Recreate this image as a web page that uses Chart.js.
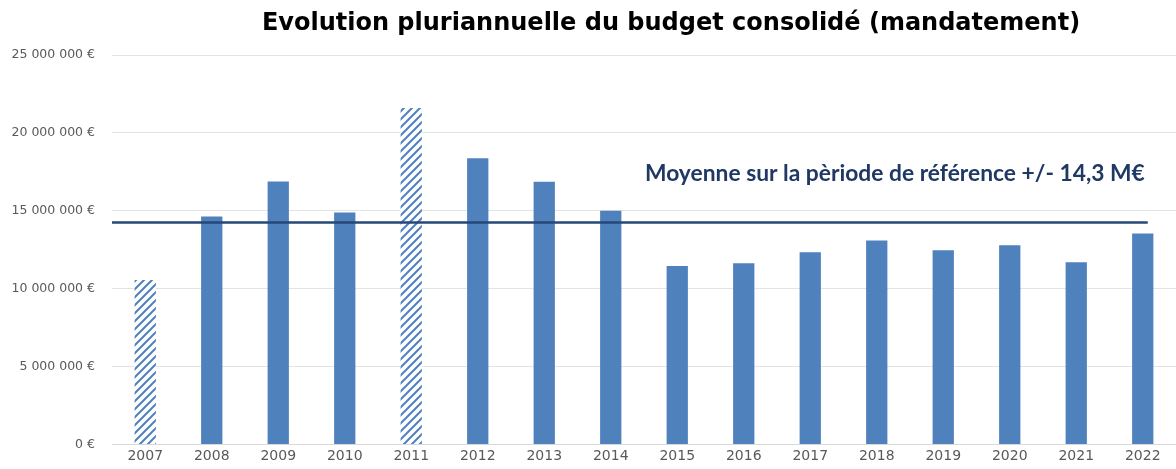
<!DOCTYPE html>
<html>
<head>
<meta charset="utf-8">
<script src="https://cdn.jsdelivr.net/npm/chart.js@4"></script>
<style>
  html, body { margin: 0; padding: 0; background: #fff; overflow: hidden; }
  canvas { display: block; }
</style>
</head>
<body>
<canvas id="budgetChart" width="1176" height="469"></canvas>
<script>
// data
const years = ['2007', '2008', '2009', '2010', '2011', '2012', '2013', '2014',
               '2015', '2016', '2017', '2018', '2019', '2020', '2021', '2022'];
const budget = [10560000, 14630000, 16880000, 14890000, 21600000, 18380000, 16860000, 15010000,
                11450000, 11640000, 12340000, 13100000, 12470000, 12790000, 11700000, 13550000];
const hatchedYears = ['2007', '2011'];
const average = 14250000;
const averageLabel = 'Moyenne sur la pèriode de référence +/- 14,3 M€';
const chartTitle = 'Evolution pluriannuelle du budget consolidé (mandatement)';
const yTicks = [0, 5000000, 10000000, 15000000, 20000000, 25000000];

const blue = '#4F81BD';

// diagonal stripes for the hatched years
function makeHatch() {
    const c = document.createElement('canvas');
    c.width = 8; c.height = 8;
    const g = c.getContext('2d');
    g.fillStyle = '#fff';
    g.fillRect(0, 0, 8, 8);
    g.strokeStyle = blue;
    g.lineWidth = 2;
    g.beginPath();
    g.moveTo(-1, 9); g.lineTo(9, -1);
    g.moveTo(-5, 5); g.lineTo(5, -5);
    g.moveTo(3, 13); g.lineTo(13, 3);
    g.stroke();
    return g.createPattern(c, 'repeat');
}
const hatch = makeHatch();

function euro(v) {
    return String(v).replace(/\B(?=(\d{3})+(?!\d))/g, ' ') + ' €';
}

// title (offset to the right like the original), average line and its label
const averagePlugin = {
    id: 'averageLine',
    afterDatasetsDraw(chart) {
        const { ctx, chartArea, scales } = chart;
        const y = scales.y.getPixelForValue(average);
        const xEnd = scales.x.getPixelForValue(years.length - 1) + 5;
        ctx.save();
        ctx.strokeStyle = '#264778';
        ctx.lineWidth = 2.5;
        ctx.beginPath();
        ctx.moveTo(chartArea.left, y);
        ctx.lineTo(xEnd, y);
        ctx.stroke();

        ctx.fillStyle = '#1F3864';
        ctx.font = 'bold 22.8px Lato, "Open Sans", sans-serif';
        ctx.textAlign = 'right';
        ctx.textBaseline = 'middle';
        ctx.fillText(averageLabel, xEnd - 3, scales.y.getPixelForValue(17400000));

        ctx.fillStyle = '#000';
        ctx.font = 'bold 24px "DejaVu Sans", Verdana, sans-serif';
        ctx.textAlign = 'center';
        ctx.fillText(chartTitle, (chartArea.left + chartArea.right) / 2 + 27, 24);
        ctx.restore();
    }
};

const ctx = document.getElementById('budgetChart').getContext('2d');
new Chart(ctx, {
    type: 'bar',
    data: {
        labels: years,
        datasets: [{
            label: 'Budget consolidé',
            data: budget,
            backgroundColor: years.map(y => hatchedYears.includes(y) ? hatch : blue),
            borderWidth: 0,
            categoryPercentage: 1,
            barPercentage: 0.32
        }]
    },
    options: {
        responsive: false,
        animation: false,
        layout: { padding: { left: 4, right: 0, top: 55, bottom: 0 } },
        plugins: {
            legend: { display: false },
            tooltip: { enabled: false },
            title: { display: false }
        },
        scales: {
            x: {
                grid: { display: false, drawTicks: false },
                border: { color: '#D9D9D9', width: 1 },
                ticks: {
                    color: '#595959',
                    font: { family: '"DejaVu Sans", sans-serif', size: 14 },
                    padding: 3,
                    maxRotation: 0
                }
            },
            y: {
                min: 0,
                max: 25000000,
                afterBuildTicks: axis => { axis.ticks = yTicks.map(v => ({ value: v })); },
                afterFit: axis => { axis.width = 108; },
                grid: { color: '#E3E3E3', lineWidth: 1, drawTicks: false },
                border: { display: false },
                ticks: {
                    color: '#595959',
                    font: { family: '"DejaVu Sans", sans-serif', size: 12.5 },
                    padding: 17,
                    callback: v => euro(v)
                }
            }
        }
    },
    plugins: [averagePlugin]
});
</script>
</body>
</html>
